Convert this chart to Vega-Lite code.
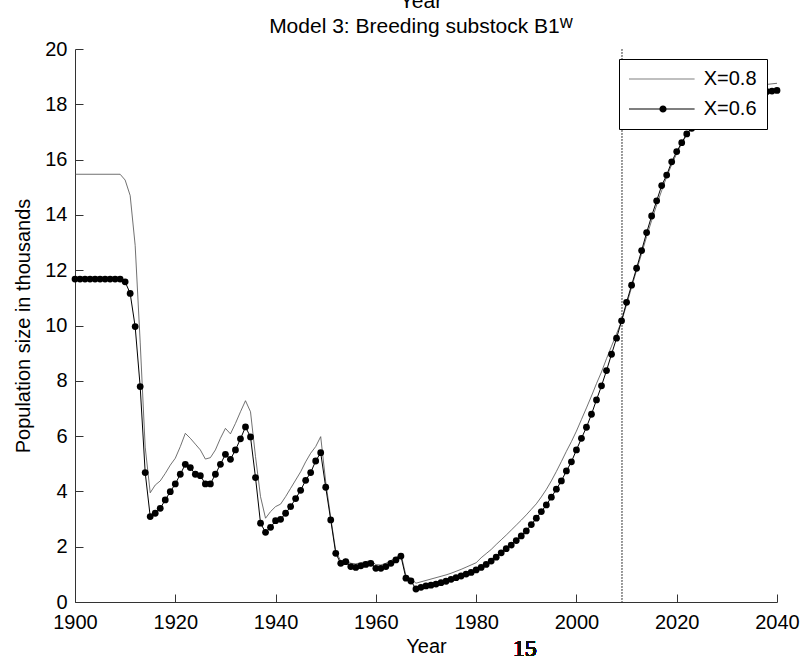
{
  "$schema": "https://vega.github.io/schema/vega-lite/v6.json",
  "width": 702,
  "height": 553,
  "autosize": {"type": "none"},
  "padding": {"left": 75, "top": 49, "right": 28, "bottom": 60},
  "background": "white",
  "config": {
    "font": "Liberation Sans",
    "view": {"stroke": null},
    "axis": {"grid": false, "domainColor": "#333", "tickColor": "#333", "labelColor": "black", "titleColor": "black", "labelFont": "Liberation Sans", "titleFont": "Liberation Sans", "titleFontWeight": "normal"}
  },
  "title": {
    "text": ["Year", "Model 3: Breeding substock B1ᵂ"],
    "font": "Liberation Sans, DejaVu Sans",
    "fontSize": 21,
    "fontWeight": "normal",
    "color": "black",
    "anchor": "middle",
    "baseline": "bottom",
    "lineHeight": 25,
    "offset": 13,
    "dx": -5,
    "dy": 32
  },
  "datasets": {
    "pop": [
      {"year":1900,"series":"X=0.6","value":11.68},{"year":1901,"series":"X=0.6","value":11.68},{"year":1902,"series":"X=0.6","value":11.68},{"year":1903,"series":"X=0.6","value":11.68},{"year":1904,"series":"X=0.6","value":11.68},{"year":1905,"series":"X=0.6","value":11.68},{"year":1906,"series":"X=0.6","value":11.68},{"year":1907,"series":"X=0.6","value":11.68},{"year":1908,"series":"X=0.6","value":11.68},{"year":1909,"series":"X=0.6","value":11.68},
      {"year":1910,"series":"X=0.6","value":11.58},{"year":1911,"series":"X=0.6","value":11.16},{"year":1912,"series":"X=0.6","value":9.96},{"year":1913,"series":"X=0.6","value":7.79},{"year":1914,"series":"X=0.6","value":4.68},{"year":1915,"series":"X=0.6","value":3.09},{"year":1916,"series":"X=0.6","value":3.21},{"year":1917,"series":"X=0.6","value":3.39},{"year":1918,"series":"X=0.6","value":3.69},{"year":1919,"series":"X=0.6","value":3.99},
      {"year":1920,"series":"X=0.6","value":4.27},{"year":1921,"series":"X=0.6","value":4.62},{"year":1922,"series":"X=0.6","value":4.98},{"year":1923,"series":"X=0.6","value":4.86},{"year":1924,"series":"X=0.6","value":4.62},{"year":1925,"series":"X=0.6","value":4.57},{"year":1926,"series":"X=0.6","value":4.27},{"year":1927,"series":"X=0.6","value":4.27},{"year":1928,"series":"X=0.6","value":4.62},{"year":1929,"series":"X=0.6","value":4.98},
      {"year":1930,"series":"X=0.6","value":5.34},{"year":1931,"series":"X=0.6","value":5.16},{"year":1932,"series":"X=0.6","value":5.5},{"year":1933,"series":"X=0.6","value":5.9},{"year":1934,"series":"X=0.6","value":6.33},{"year":1935,"series":"X=0.6","value":5.97},{"year":1936,"series":"X=0.6","value":4.5},{"year":1937,"series":"X=0.6","value":2.85},{"year":1938,"series":"X=0.6","value":2.52},{"year":1939,"series":"X=0.6","value":2.7},
      {"year":1940,"series":"X=0.6","value":2.94},{"year":1941,"series":"X=0.6","value":2.99},{"year":1942,"series":"X=0.6","value":3.21},{"year":1943,"series":"X=0.6","value":3.45},{"year":1944,"series":"X=0.6","value":3.74},{"year":1945,"series":"X=0.6","value":4.04},{"year":1946,"series":"X=0.6","value":4.4},{"year":1947,"series":"X=0.6","value":4.68},{"year":1948,"series":"X=0.6","value":5.1},{"year":1949,"series":"X=0.6","value":5.4},
      {"year":1950,"series":"X=0.6","value":4.15},{"year":1951,"series":"X=0.6","value":2.97},{"year":1952,"series":"X=0.6","value":1.76},{"year":1953,"series":"X=0.6","value":1.4},{"year":1954,"series":"X=0.6","value":1.46},{"year":1955,"series":"X=0.6","value":1.28},{"year":1956,"series":"X=0.6","value":1.25},{"year":1957,"series":"X=0.6","value":1.31},{"year":1958,"series":"X=0.6","value":1.36},{"year":1959,"series":"X=0.6","value":1.4},
      {"year":1960,"series":"X=0.6","value":1.22},{"year":1961,"series":"X=0.6","value":1.22},{"year":1962,"series":"X=0.6","value":1.28},{"year":1963,"series":"X=0.6","value":1.4},{"year":1964,"series":"X=0.6","value":1.52},{"year":1965,"series":"X=0.6","value":1.66},{"year":1966,"series":"X=0.6","value":0.86},{"year":1967,"series":"X=0.6","value":0.76},{"year":1968,"series":"X=0.6","value":0.47},{"year":1969,"series":"X=0.6","value":0.53},
      {"year":1970,"series":"X=0.6","value":0.58},{"year":1971,"series":"X=0.6","value":0.61},{"year":1972,"series":"X=0.6","value":0.65},{"year":1973,"series":"X=0.6","value":0.7},{"year":1974,"series":"X=0.6","value":0.75},{"year":1975,"series":"X=0.6","value":0.82},{"year":1976,"series":"X=0.6","value":0.88},{"year":1977,"series":"X=0.6","value":0.94},{"year":1978,"series":"X=0.6","value":1.01},{"year":1979,"series":"X=0.6","value":1.07},
      {"year":1980,"series":"X=0.6","value":1.16},{"year":1981,"series":"X=0.6","value":1.25},{"year":1982,"series":"X=0.6","value":1.36},{"year":1983,"series":"X=0.6","value":1.48},{"year":1984,"series":"X=0.6","value":1.62},{"year":1985,"series":"X=0.6","value":1.78},{"year":1986,"series":"X=0.6","value":1.93},{"year":1987,"series":"X=0.6","value":2.06},{"year":1988,"series":"X=0.6","value":2.22},{"year":1989,"series":"X=0.6","value":2.39},
      {"year":1990,"series":"X=0.6","value":2.57},{"year":1991,"series":"X=0.6","value":2.8},{"year":1992,"series":"X=0.6","value":3.03},{"year":1993,"series":"X=0.6","value":3.27},{"year":1994,"series":"X=0.6","value":3.51},{"year":1995,"series":"X=0.6","value":3.79},{"year":1996,"series":"X=0.6","value":4.08},{"year":1997,"series":"X=0.6","value":4.38},{"year":1998,"series":"X=0.6","value":4.74},{"year":1999,"series":"X=0.6","value":5.07},
      {"year":2000,"series":"X=0.6","value":5.5},{"year":2001,"series":"X=0.6","value":5.92},{"year":2002,"series":"X=0.6","value":6.32},{"year":2003,"series":"X=0.6","value":6.79},{"year":2004,"series":"X=0.6","value":7.31},{"year":2005,"series":"X=0.6","value":7.82},{"year":2006,"series":"X=0.6","value":8.37},{"year":2007,"series":"X=0.6","value":8.96},{"year":2008,"series":"X=0.6","value":9.54},{"year":2009,"series":"X=0.6","value":10.17},
      {"year":2010,"series":"X=0.6","value":10.84},{"year":2011,"series":"X=0.6","value":11.46},{"year":2012,"series":"X=0.6","value":12.07},{"year":2013,"series":"X=0.6","value":12.71},{"year":2014,"series":"X=0.6","value":13.36},{"year":2015,"series":"X=0.6","value":13.96},{"year":2016,"series":"X=0.6","value":14.51},{"year":2017,"series":"X=0.6","value":15.06},{"year":2018,"series":"X=0.6","value":15.44},{"year":2019,"series":"X=0.6","value":15.92},
      {"year":2020,"series":"X=0.6","value":16.29},{"year":2021,"series":"X=0.6","value":16.61},{"year":2022,"series":"X=0.6","value":16.93},{"year":2023,"series":"X=0.6","value":17.13},{"year":2024,"series":"X=0.6","value":17.35},{"year":2025,"series":"X=0.6","value":17.55},{"year":2026,"series":"X=0.6","value":17.72},{"year":2027,"series":"X=0.6","value":17.87},{"year":2028,"series":"X=0.6","value":18.0},{"year":2029,"series":"X=0.6","value":18.1},
      {"year":2030,"series":"X=0.6","value":18.18},{"year":2031,"series":"X=0.6","value":18.25},{"year":2032,"series":"X=0.6","value":18.3},{"year":2033,"series":"X=0.6","value":18.34},{"year":2034,"series":"X=0.6","value":18.37},{"year":2035,"series":"X=0.6","value":18.4},{"year":2036,"series":"X=0.6","value":18.42},{"year":2037,"series":"X=0.6","value":18.44},{"year":2038,"series":"X=0.6","value":18.46},{"year":2039,"series":"X=0.6","value":18.48},{"year":2040,"series":"X=0.6","value":18.5},
      {"year":1900,"series":"X=0.8","value":15.47},{"year":1909,"series":"X=0.8","value":15.47},
      {"year":1910,"series":"X=0.8","value":15.26},{"year":1911,"series":"X=0.8","value":14.7},{"year":1912,"series":"X=0.8","value":12.9},{"year":1913,"series":"X=0.8","value":9.4},{"year":1914,"series":"X=0.8","value":5.6},{"year":1915,"series":"X=0.8","value":3.95},{"year":1916,"series":"X=0.8","value":4.23},{"year":1917,"series":"X=0.8","value":4.38},{"year":1918,"series":"X=0.8","value":4.65},{"year":1919,"series":"X=0.8","value":4.95},
      {"year":1920,"series":"X=0.8","value":5.2},{"year":1921,"series":"X=0.8","value":5.62},{"year":1922,"series":"X=0.8","value":6.1},{"year":1923,"series":"X=0.8","value":5.92},{"year":1924,"series":"X=0.8","value":5.71},{"year":1925,"series":"X=0.8","value":5.5},{"year":1926,"series":"X=0.8","value":5.17},{"year":1927,"series":"X=0.8","value":5.22},{"year":1928,"series":"X=0.8","value":5.5},{"year":1929,"series":"X=0.8","value":5.92},
      {"year":1930,"series":"X=0.8","value":6.28},{"year":1931,"series":"X=0.8","value":6.08},{"year":1932,"series":"X=0.8","value":6.46},{"year":1933,"series":"X=0.8","value":6.88},{"year":1934,"series":"X=0.8","value":7.28},{"year":1935,"series":"X=0.8","value":6.88},{"year":1936,"series":"X=0.8","value":5.26},{"year":1937,"series":"X=0.8","value":3.81},{"year":1938,"series":"X=0.8","value":3.03},{"year":1939,"series":"X=0.8","value":3.27},
      {"year":1940,"series":"X=0.8","value":3.45},{"year":1941,"series":"X=0.8","value":3.54},{"year":1942,"series":"X=0.8","value":3.81},{"year":1943,"series":"X=0.8","value":4.11},{"year":1944,"series":"X=0.8","value":4.41},{"year":1945,"series":"X=0.8","value":4.71},{"year":1946,"series":"X=0.8","value":5.07},{"year":1947,"series":"X=0.8","value":5.38},{"year":1948,"series":"X=0.8","value":5.62},{"year":1949,"series":"X=0.8","value":5.98},
      {"year":1950,"series":"X=0.8","value":4.35},{"year":1951,"series":"X=0.8","value":3.05},{"year":1952,"series":"X=0.8","value":1.85},{"year":1953,"series":"X=0.8","value":1.48},{"year":1954,"series":"X=0.8","value":1.55},{"year":1955,"series":"X=0.8","value":1.4},{"year":1956,"series":"X=0.8","value":1.38},{"year":1957,"series":"X=0.8","value":1.42},{"year":1958,"series":"X=0.8","value":1.46},{"year":1959,"series":"X=0.8","value":1.5},
      {"year":1960,"series":"X=0.8","value":1.35},{"year":1961,"series":"X=0.8","value":1.34},{"year":1962,"series":"X=0.8","value":1.4},{"year":1963,"series":"X=0.8","value":1.5},{"year":1964,"series":"X=0.8","value":1.6},{"year":1965,"series":"X=0.8","value":1.74},{"year":1966,"series":"X=0.8","value":0.95},{"year":1967,"series":"X=0.8","value":0.85},{"year":1968,"series":"X=0.8","value":0.68},{"year":1969,"series":"X=0.8","value":0.73},
      {"year":1970,"series":"X=0.8","value":0.78},{"year":1971,"series":"X=0.8","value":0.83},{"year":1972,"series":"X=0.8","value":0.88},{"year":1973,"series":"X=0.8","value":0.93},{"year":1974,"series":"X=0.8","value":0.98},{"year":1975,"series":"X=0.8","value":1.04},{"year":1976,"series":"X=0.8","value":1.11},{"year":1977,"series":"X=0.8","value":1.18},{"year":1978,"series":"X=0.8","value":1.26},{"year":1979,"series":"X=0.8","value":1.34},
      {"year":1980,"series":"X=0.8","value":1.42},{"year":1981,"series":"X=0.8","value":1.6},{"year":1982,"series":"X=0.8","value":1.75},{"year":1983,"series":"X=0.8","value":1.9},{"year":1984,"series":"X=0.8","value":2.08},{"year":1985,"series":"X=0.8","value":2.25},{"year":1986,"series":"X=0.8","value":2.42},{"year":1987,"series":"X=0.8","value":2.6},{"year":1988,"series":"X=0.8","value":2.78},{"year":1989,"series":"X=0.8","value":2.96},
      {"year":1990,"series":"X=0.8","value":3.15},{"year":1991,"series":"X=0.8","value":3.35},{"year":1992,"series":"X=0.8","value":3.55},{"year":1993,"series":"X=0.8","value":3.8},{"year":1994,"series":"X=0.8","value":4.07},{"year":1995,"series":"X=0.8","value":4.38},{"year":1996,"series":"X=0.8","value":4.72},{"year":1997,"series":"X=0.8","value":5.08},{"year":1998,"series":"X=0.8","value":5.45},{"year":1999,"series":"X=0.8","value":5.8},
      {"year":2000,"series":"X=0.8","value":6.18},{"year":2001,"series":"X=0.8","value":6.6},{"year":2002,"series":"X=0.8","value":7.02},{"year":2003,"series":"X=0.8","value":7.45},{"year":2004,"series":"X=0.8","value":7.9},{"year":2005,"series":"X=0.8","value":8.32},{"year":2006,"series":"X=0.8","value":8.8},{"year":2007,"series":"X=0.8","value":9.25},{"year":2008,"series":"X=0.8","value":9.7},{"year":2009,"series":"X=0.8","value":10.15},
      {"year":2010,"series":"X=0.8","value":10.75},{"year":2011,"series":"X=0.8","value":11.38},{"year":2012,"series":"X=0.8","value":12.0},{"year":2013,"series":"X=0.8","value":12.6},{"year":2014,"series":"X=0.8","value":13.22},{"year":2015,"series":"X=0.8","value":13.8},{"year":2016,"series":"X=0.8","value":14.36},{"year":2017,"series":"X=0.8","value":14.88},{"year":2018,"series":"X=0.8","value":15.38},{"year":2019,"series":"X=0.8","value":15.82},
      {"year":2020,"series":"X=0.8","value":16.22},{"year":2021,"series":"X=0.8","value":16.58},{"year":2022,"series":"X=0.8","value":16.9},{"year":2023,"series":"X=0.8","value":17.2},{"year":2024,"series":"X=0.8","value":17.45},{"year":2025,"series":"X=0.8","value":17.68},{"year":2026,"series":"X=0.8","value":17.88},{"year":2027,"series":"X=0.8","value":18.05},{"year":2028,"series":"X=0.8","value":18.18},{"year":2029,"series":"X=0.8","value":18.3},
      {"year":2030,"series":"X=0.8","value":18.4},{"year":2031,"series":"X=0.8","value":18.47},{"year":2032,"series":"X=0.8","value":18.53},{"year":2033,"series":"X=0.8","value":18.58},{"year":2034,"series":"X=0.8","value":18.62},{"year":2035,"series":"X=0.8","value":18.65},{"year":2036,"series":"X=0.8","value":18.68},{"year":2037,"series":"X=0.8","value":18.7},{"year":2038,"series":"X=0.8","value":18.72},{"year":2039,"series":"X=0.8","value":18.74},{"year":2040,"series":"X=0.8","value":18.76}
    ]
  },
  "data": {"name": "pop"},
  "layer": [
    {
      "mark": {"type": "rule", "color": "#999999", "strokeWidth": 1, "strokeDash": [1.5, 1.5]},
      "encoding": {"x": {"datum": 2009, "type": "quantitative"}}
    },
    {
      "transform": [{"filter": "datum.series === 'X=0.8'"}],
      "mark": {"type": "line", "color": "#4d4d4d", "strokeWidth": 0.8},
      "encoding": {
        "x": {
          "field": "year", "type": "quantitative",
          "scale": {"domain": [1900, 2040], "nice": false, "zero": false},
          "axis": {
            "values": [1900, 1920, 1940, 1960, 1980, 2000, 2020, 2040],
            "format": "d", "title": "Year", "tickSize": -8, "labelPadding": 18,
            "labelFontSize": 20, "titleFontSize": 20, "titlePadding": 4,
            "labelFlush": false, "labelOverlap": false
          }
        },
        "y": {
          "field": "value", "type": "quantitative",
          "scale": {"domain": [0, 20], "nice": false},
          "axis": {
            "values": [0, 2, 4, 6, 8, 10, 12, 14, 16, 18, 20],
            "title": "Population size in thousands", "tickSize": -8, "labelPadding": 16,
            "labelFontSize": 20, "titleFontSize": 20, "titlePadding": 11,
            "labelFlush": false, "labelOverlap": false
          }
        }
      }
    },
    {
      "transform": [{"filter": "datum.series === 'X=0.6'"}],
      "mark": {"type": "line", "color": "black", "strokeWidth": 1},
      "encoding": {
        "x": {"field": "year", "type": "quantitative"},
        "y": {"field": "value", "type": "quantitative"}
      }
    },
    {
      "transform": [{"filter": "datum.series === 'X=0.6'"}],
      "mark": {"type": "point", "shape": "circle", "filled": true, "color": "black", "opacity": 1, "size": 46},
      "encoding": {
        "x": {"field": "year", "type": "quantitative"},
        "y": {"field": "value", "type": "quantitative"}
      }
    },
    {
      "mark": {"type": "point", "filled": true, "color": "black", "opacity": 0, "size": 400},
      "encoding": {
        "x": {"field": "year", "type": "quantitative"},
        "y": {"field": "value", "type": "quantitative"},
        "shape": {
          "field": "series", "type": "nominal",
          "scale": {
            "domain": ["X=0.8", "X=0.6"],
            "range": ["M-1,-0.035L5.56,-0.035L5.56,0.035L-1,0.035Z", "M-1,-0.05L5.56,-0.05L5.56,0.05L-1,0.05ZM2.76,0A0.36,0.36,0,1,1,2.04,0A0.36,0.36,0,1,1,2.76,0Z"]
          },
          "legend": {
            "title": null, "orient": "top-right", "offset": 10, "padding": 10,
            "strokeColor": "black", "fillColor": "white",
            "symbolSize": 400, "labelOffset": 54.7, "rowPadding": 10,
            "labelFontSize": 20, "labelFont": "Liberation Sans", "labelColor": "black",
            "symbolStrokeWidth": 0, "symbolFillColor": "black", "symbolOpacity": 1,
            "encode": {
              "symbols": {
                "opacity": {"value": 1},
                "fill": {"value": "black"},
                "fillOpacity": {"value": 1}
              }
            }
          }
        }
      }
    },
    {
      "mark": {"type": "text", "text": "15", "font": "Liberation Serif", "fontSize": 24, "fontWeight": "normal", "color": "#111111", "baseline": "alphabetic", "align": "center"},
      "encoding": {
        "x": {"datum": 1989.7, "type": "quantitative"},
        "y": {"datum": -1.95, "type": "quantitative"}
      }
    }
  ]
}
